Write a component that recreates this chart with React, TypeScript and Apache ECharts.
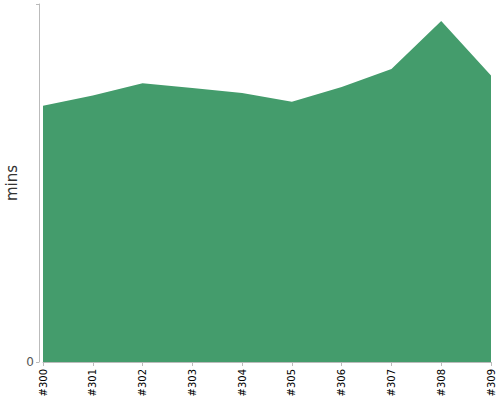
import React, { useEffect, useRef } from "react";
import * as echarts from "echarts";

const builds = ["#300", "#301", "#302", "#303", "#304", "#305", "#306", "#307", "#308", "#309"];
const durations = [14.32, 14.89, 15.57, 15.31, 15.03, 14.54, 15.36, 16.37, 19.05, 16.0];
const yMax = 20;

export default function App() {
  const ref = useRef<HTMLDivElement>(null);
  useEffect(() => {
    const chart = echarts.init(ref.current!, undefined, { renderer: "svg" });
    chart.setOption({
      animation: false,
      grid: { left: 43, right: 9, top: 4, bottom: 38, containLabel: false, outerBoundsMode: "none" },
      xAxis: {
        type: "category",
        data: builds,
        boundaryGap: false,
        offset: 1,
        axisLine: { lineStyle: { color: "#bbbbbb" } },
        axisTick: { alignWithLabel: true, length: 4, lineStyle: { color: "#bbbbbb" } },
        axisLabel: {
          rotate: 90,
          color: "#000",
          fontSize: 10,
          fontFamily: "DejaVu Sans",
          margin: 6,
          interval: 0,
        },
        splitLine: { show: false },
      },
      yAxis: {
        type: "value",
        min: 0,
        max: yMax,
        interval: yMax,
        offset: 4,
        name: "mins",
        nameLocation: "middle",
        nameGap: 20,
        nameMoveOverlap: false,
        nameTextStyle: { color: "#333", fontSize: 15, fontFamily: "DejaVu Sans" },
        axisLine: { show: true, lineStyle: { color: "#bbbbbb" } },
        axisTick: { show: true, length: 3, lineStyle: { color: "#bbbbbb" } },
        axisLabel: {
          color: "#555",
          fontSize: 12,
          fontFamily: "DejaVu Sans",
          margin: 5,
          formatter: (v: number) => (v === 0 ? "0" : ""),
        },
        splitLine: { show: false },
      },
      series: [
        {
          type: "line",
          data: durations,
          symbol: "none",
          lineStyle: { width: 0, color: "#449c6c" },
          itemStyle: { color: "#449c6c" },
          areaStyle: { color: "#449c6c", opacity: 1 },
        },
      ],
    });
    return () => chart.dispose();
  }, []);
  return <div ref={ref} style={{ width: 500, height: 400, position: "absolute", left: 0, top: 0 }} />;
}
